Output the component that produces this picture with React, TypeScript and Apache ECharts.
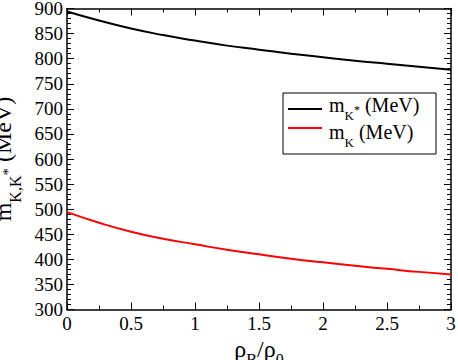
import React, { useEffect, useRef } from "react";
import * as echarts from "echarts";

const densities = [0, 0.25, 0.5, 0.75, 1, 1.25, 1.5, 1.75, 2, 2.25, 2.5, 2.75, 3];
const mKstar = [894, 876, 860, 847, 836, 826, 818, 810, 803, 796, 790, 784, 778];
const mK = [494, 473, 455, 441, 430, 419, 410, 401, 394, 387, 381, 375, 370];
const legendLabels = ["{r|m}{s|K}{p|*}{r| (MeV)}", "{r|m}{s|K}{r| (MeV)}"];
const seriesColors = ["#000000", "#ff0000"];

const FONT = "Liberation Serif";

export default function App() {
  const ref = useRef<HTMLDivElement>(null);
  useEffect(() => {
    if (!ref.current) return;
    const chart = echarts.init(ref.current, null, { renderer: "svg" });
    const axisCommon = {
      axisLine: { show: true, onZero: false, lineStyle: { color: "#000", width: 1.5 } },
      axisTick: { show: true, inside: true, length: 7, lineStyle: { color: "#000", width: 1 } },
      minorTick: { show: true, length: 4, lineStyle: { color: "#000", width: 1 } },
      splitLine: { show: false },
    };
    const xCommon = { type: "value", min: 0, max: 3, interval: 0.5, ...axisCommon, minorTick: { ...axisCommon.minorTick, splitNumber: 2 } };
    const yCommon = { type: "value", min: 300, max: 900, interval: 50, ...axisCommon, minorTick: { ...axisCommon.minorTick, splitNumber: 5 } };
    const tickLabel = { margin: 4, color: "#000", fontFamily: FONT, fontStyle: "normal", fontWeight: "normal", fontSize: 19 };
    const legendRich = {
      r: { fontFamily: FONT, fontSize: 20, fill: "#000", lineHeight: 27, verticalAlign: "top" },
      s: { fontFamily: FONT, fontSize: 13, fill: "#000", lineHeight: 27, verticalAlign: "bottom" },
      p: { fontFamily: FONT, fontSize: 12, fill: "#000", lineHeight: 27, verticalAlign: "top", padding: [9, 0, 0, 0] },
    };
    const legendX = 283, legendY = 93, rowTextY = [95, 122], rowLineY = [109, 128];
    const legendGraphics: any[] = [
      { type: "rect", shape: { x: legendX, y: legendY, width: 153, height: 61 }, style: { fill: "#fff", stroke: "#000", lineWidth: 1 }, z: 100 },
    ];
    legendLabels.forEach((lab, i) => {
      legendGraphics.push({
        type: "line",
        shape: { x1: legendX + 5, y1: rowLineY[i], x2: legendX + 39, y2: rowLineY[i] },
        style: { stroke: seriesColors[i], lineWidth: 2 },
        z: 101,
      });
      legendGraphics.push({
        type: "text",
        x: legendX + 46,
        y: rowTextY[i],
        style: { text: lab, rich: legendRich, verticalAlign: "top", align: "left" },
        z: 101,
      });
    });
    chart.setOption({
      animation: false,
      grid: { left: 67, right: 7, top: 8.5, bottom: 50.5, containLabel: false, outerBoundsMode: "none" },
      xAxis: [
        {
          ...xCommon,
          position: "bottom",
          axisLabel: tickLabel,
          name: "{r|ρ}{s|B}{r|/ρ}{s|0}",
          nameLocation: "middle",
          nameGap: 19,
          nameTextStyle: {
            rich: {
              r: { fontFamily: FONT, fontSize: 24, color: "#000", lineHeight: 30, verticalAlign: "top" },
              s: { fontFamily: FONT, fontSize: 16, color: "#000", lineHeight: 30, verticalAlign: "bottom" },
            },
          },
        },
        { ...xCommon, position: "top", axisLabel: { show: false } },
      ],
      yAxis: [
        {
          ...yCommon,
          position: "left",
          axisLabel: tickLabel,
          name: "{r|m}{s|K,K}{p|*}{r| (MeV)}",
          nameLocation: "middle",
          nameRotate: 90,
          nameGap: 27,
          nameTextStyle: {
            rich: {
              r: { fontFamily: FONT, fontSize: 24, color: "#000", lineHeight: 33, verticalAlign: "top" },
              s: { fontFamily: FONT, fontSize: 16, color: "#000", lineHeight: 33, verticalAlign: "bottom" },
              p: { fontFamily: FONT, fontSize: 15, color: "#000", lineHeight: 33, verticalAlign: "top", padding: [10, 0, 0, 0] },
            },
          },
        },
        { ...yCommon, position: "right", axisLabel: { show: false } },
      ],
      graphic: legendGraphics,
      series: [
        {
          name: "mKstar",
          type: "line",
          smooth: true,
          symbol: "none",
          lineStyle: { color: seriesColors[0], width: 2 },
          data: densities.map((d, i) => [d, mKstar[i]]),
        },
        {
          name: "mK",
          type: "line",
          smooth: true,
          symbol: "none",
          lineStyle: { color: seriesColors[1], width: 2 },
          data: densities.map((d, i) => [d, mK[i]]),
        },
      ],
    });
    return () => chart.dispose();
  }, []);
  return <div ref={ref} style={{ width: 458, height: 360, position: "absolute", left: 0, top: 0 }} />;
}
